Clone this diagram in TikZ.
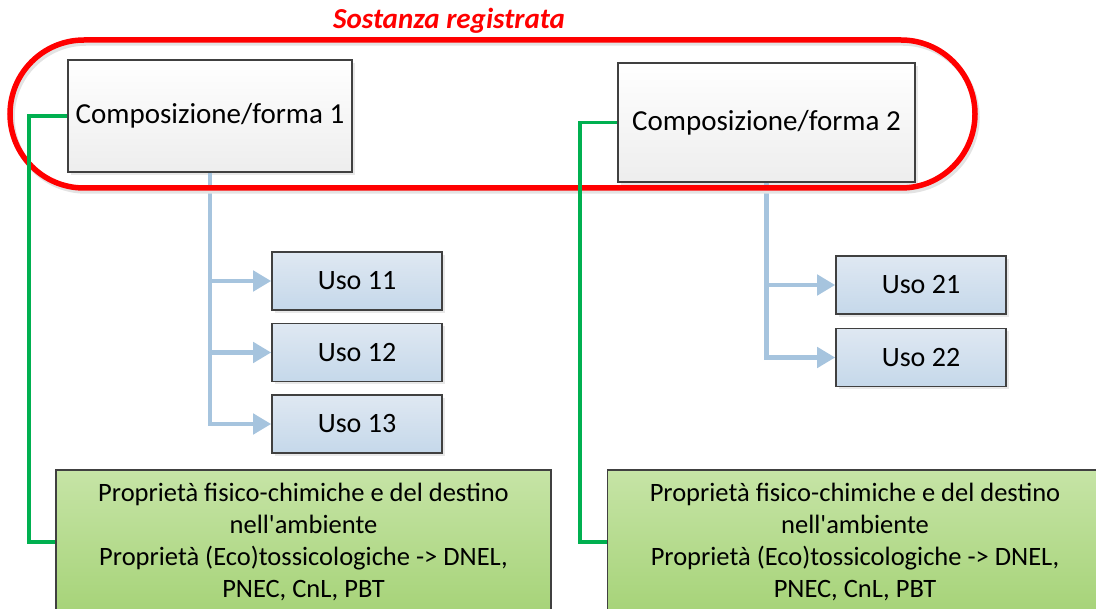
\documentclass[tikz,border=0pt]{standalone}
\usepackage{fontspec}
\setmainfont{Carlito}
\usepackage{tikz}
\usetikzlibrary{arrows.meta,shadows}
\usepackage{xcolor}
\definecolor{reg-red}{RGB}{255,0,0}
\definecolor{link-green}{RGB}{0,176,80}
\definecolor{link-blue}{RGB}{166,196,222}
\definecolor{box-border}{RGB}{64,64,64}
\definecolor{uso-top}{RGB}{223,232,242}
\definecolor{uso-bot}{RGB}{197,216,234}
\definecolor{prop-top}{RGB}{198,228,166}
\definecolor{prop-bot}{RGB}{166,211,120}

\begin{document}
\begin{tikzpicture}[x=1pt, y=-1pt,
    formbox/.style={rectangle, draw=box-border, line width=1.6pt, top color=white, bottom color=gray!14, inner sep=0pt, font=\fontsize{29}{34}\selectfont, drop shadow={opacity=0.18, shadow xshift=3pt, shadow yshift=-3pt}},
    usobox/.style={rectangle, draw=box-border, line width=1.6pt, top color=uso-top, bottom color=uso-bot, minimum width=170pt, minimum height=58pt, inner sep=0pt, font=\fontsize{28}{32}\selectfont, drop shadow={opacity=0.18, shadow xshift=3pt, shadow yshift=-3pt}},
    propbox/.style={rectangle, draw=box-border, line width=1.6pt, top color=prop-top, bottom color=prop-bot, minimum width=495pt, minimum height=144pt, inner sep=0pt, align=center, font=\fontsize{26.5}{32}\selectfont},
    uselink/.style={link-blue, line width=4.5pt, -{Triangle[length=18pt,width=20pt]}},
    proplink/.style={link-green, line width=3.5pt}]

    \useasboundingbox (0,0) rectangle (1096,609);
    \clip (0,0) rectangle (1096,609);

    % Compositions
    \node[formbox, minimum width=284pt, minimum height=112pt] (form1) at (210,116) {Composizione/forma 1};
    \node[formbox, minimum width=297pt, minimum height=119pt] (form2) at (766.5,122.5) {Composizione/forma 2};

    % Uses
    \node[usobox] (uso11) at (357,281) {Uso 11};
    \node[usobox] (uso12) at (357,352.5) {Uso 12};
    \node[usobox] (uso13) at (357,424) {Uso 13};
    \node[usobox] (uso21) at (921,285) {Uso 21};
    \node[usobox] (uso22) at (921,357.5) {Uso 22};

    % Properties
    \node[propbox] (prop1) at (303.5,542) {Proprietà fisico-chimiche e del destino\\nell\textquotesingle ambiente\\Proprietà (Eco)tossicologiche -> DNEL,\\PNEC, CnL, PBT};
    \node[propbox] (prop2) at (855,542) {Proprietà fisico-chimiche e del destino\\nell\textquotesingle ambiente\\Proprietà (Eco)tossicologiche -> DNEL,\\PNEC, CnL, PBT};

    % Arrows to the uses
    \draw[uselink] (form1.south) |- (uso11.west);
    \draw[uselink] (form1.south) |- (uso12.west);
    \draw[uselink] (form1.south) |- (uso13.west);
    \draw[uselink] (form2.south) |- (uso21.west);
    \draw[uselink] (form2.south) |- (uso22.west);

    % Registered substance
    \draw[gray!22, line width=5.5pt, rounded corners=74pt] (12,43) rectangle (977,191);
    \draw[reg-red, line width=5.5pt, rounded corners=74pt] (10,40) rectangle (975,188);
    \node[reg-red, font=\fontsize{29}{33}\selectfont\bfseries\itshape] (title) at (449,21) {Sostanza registrata};

    % Links to the properties
    \draw[proplink] (form1.west) -- ++(-38,0) |- (prop1.west);
    \draw[proplink] (form2.west) -- ++(-37,0) |- (prop2.west);
\end{tikzpicture}
\end{document}
